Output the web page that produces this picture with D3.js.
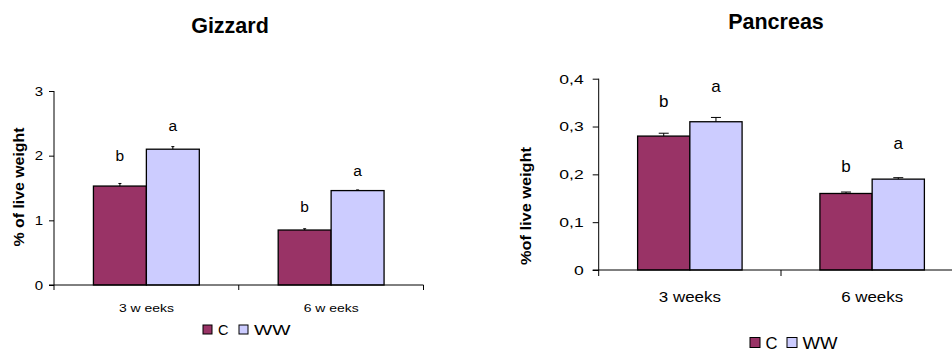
<!DOCTYPE html>
<html>
<head>
<meta charset="utf-8">
<script src="https://cdn.jsdelivr.net/npm/d3@7"></script>
<style>
  html, body { margin: 0; padding: 0; background: #fff; }
  svg { display: block; font-family: "Liberation Sans", Arial, sans-serif; }
</style>
</head>
<body>
<svg id="chart" width="952" height="352"></svg>
<script>
// ---------- DATA ----------
const series = ["C", "WW"];
const seriesColors = ["#993366", "#CCCCFF"];

const gizzardCategories = ["3 w eeks", "6 w eeks"];
const gizzardC = [1.53, 0.85];
const gizzardWW = [2.10, 1.46];
const gizzardErrC = [0.04, 0.02];
const gizzardErrWW = [0.04, 0.01];
const gizzardLettersC = ["b", "b"];
const gizzardLettersWW = ["a", "a"];
const gizzardLetterAtC = [1.91, 1.13];
const gizzardLetterAtWW = [2.38, 1.69];
const gizzardTicks = [0, 1, 2, 3];
const gizzardTickLabels = ["0", "1", "2", "3"];

const pancreasCategories = ["3 weeks", "6 weeks"];
const pancreasC = [0.28, 0.16];
const pancreasWW = [0.31, 0.19];
const pancreasErrC = [0.006, 0.003];
const pancreasErrWW = [0.009, 0.003];
const pancreasLettersC = ["b", "b"];
const pancreasLettersWW = ["a", "a"];
const pancreasLetterAtC = [0.341, 0.2055];
const pancreasLetterAtWW = [0.373, 0.254];
const pancreasTicks = [0, 0.1, 0.2, 0.3, 0.4];
const pancreasTickLabels = ["0", "0,1", "0,2", "0,3", "0,4"];

// ---------- DRAW ----------
const svg = d3.select("#chart");

function stretch(sel, k) {
  sel.each(function () {
    const w = this.getComputedTextLength();
    d3.select(this).attr("textLength", w * k).attr("lengthAdjust", "spacingAndGlyphs");
  });
}

function drawChart(o) {
  const g = svg.append("g");
  const x = d3.scaleBand().domain(o.categories).range([o.x0, o.x1]);
  const xs = d3.scaleBand().domain(series).range([0, x.bandwidth()]).paddingInner(0).paddingOuter(0.745);
  const y = d3.scaleLinear().domain([0, o.ticks[o.ticks.length - 1]]).range([o.y0, o.y1]);

  const values = [o.c, o.ww];
  const errs = [o.errC, o.errWW];
  const letters = [o.lettersC, o.lettersWW];
  const letterAt = [o.letterAtC, o.letterAtWW];

  series.forEach((s, si) => {
    g.selectAll(null).data(o.categories).enter().append("rect")
      .attr("x", d => x(d) + xs(s))
      .attr("y", (d, i) => y(values[si][i]))
      .attr("width", xs.bandwidth())
      .attr("height", (d, i) => y(0) - y(values[si][i]))
      .attr("fill", seriesColors[si])
      .attr("stroke", "#000")
      .attr("stroke-width", 1.3);
    const eg = g.selectAll(null).data(o.categories).enter().append("g");
    eg.append("line")
      .attr("x1", d => x(d) + xs(s) + xs.bandwidth() / 2)
      .attr("x2", d => x(d) + xs(s) + xs.bandwidth() / 2)
      .attr("y1", (d, i) => y(values[si][i]))
      .attr("y2", (d, i) => y(values[si][i] + errs[si][i]))
      .attr("stroke", "#000").attr("stroke-width", 1);
    eg.append("line")
      .attr("x1", d => x(d) + xs(s) + xs.bandwidth() / 2 - o.cap / 2)
      .attr("x2", d => x(d) + xs(s) + xs.bandwidth() / 2 + o.cap / 2)
      .attr("y1", (d, i) => y(values[si][i] + errs[si][i]))
      .attr("y2", (d, i) => y(values[si][i] + errs[si][i]))
      .attr("stroke", "#000").attr("stroke-width", 1);
    g.selectAll(null).data(o.categories).enter().append("text")
      .attr("x", d => x(d) + xs(s) + xs.bandwidth() / 2)
      .attr("y", (d, i) => y(letterAt[si][i]))
      .attr("text-anchor", "middle")
      .attr("font-size", o.letterSize)
      .attr("fill", "#000")
      .text((d, i) => letters[si][i]);
  });

  const yAxis = d3.axisLeft(y).tickValues(o.ticks)
    .tickFormat((d, i) => o.tickLabels[i]).tickSize(o.tickLen).tickPadding(o.tickPad);
  const ya = g.append("g").attr("transform", `translate(${o.x0},0)`).call(yAxis);
  ya.select(".domain").attr("stroke", "#000").attr("d", `M0,${o.y0}V${o.y1}`);
  ya.selectAll(".tick line").attr("stroke", "#000");
  ya.selectAll(".tick text").attr("font-size", o.tickSize).attr("fill", "#000")
    .attr("font-family", "Liberation Sans, Arial, sans-serif");
  stretch(ya.selectAll(".tick text"), o.tickStretch);

  const xLine = g.append("g");
  xLine.append("line").attr("x1", o.x0 - o.tickLen).attr("x2", o.x1)
    .attr("y1", o.y0).attr("y2", o.y0).attr("stroke", "#000");
  const xTicks = o.categories.map(c => x(c)).concat([o.x1]);
  xLine.selectAll(null).data(xTicks).enter().append("line")
    .attr("x1", d => d).attr("x2", d => d)
    .attr("y1", o.y0).attr("y2", o.y0 + o.tickLen).attr("stroke", "#000");
  xLine.selectAll(null).data(o.categories).enter().append("text")
    .attr("x", d => x(d) + x.bandwidth() / 2)
    .attr("y", o.catY)
    .attr("text-anchor", "middle")
    .attr("font-size", o.catSize)
    .attr("fill", "#000")
    .attr("textLength", o.catWidth).attr("lengthAdjust", "spacingAndGlyphs")
    .text(d => d);

  g.append("text")
    .attr("transform", `translate(${o.ylabX},${o.ylabY}) rotate(-90)`)
    .attr("text-anchor", "middle")
    .attr("dominant-baseline", "central")
    .attr("font-size", o.ylabSize).attr("font-weight", "bold")
    .attr("textLength", o.ylabWidth).attr("lengthAdjust", "spacingAndGlyphs")
    .text(o.ylab);

  g.append("text")
    .attr("x", o.titleX).attr("y", o.titleY)
    .attr("text-anchor", "middle")
    .attr("font-size", 21.5).attr("font-weight", "bold")
    .text(o.title);

  const lg = g.append("g");
  series.forEach((s, si) => {
    lg.append("rect")
      .attr("x", o.legX[si]).attr("y", o.legY)
      .attr("width", o.legBox).attr("height", o.legBox)
      .attr("fill", seriesColors[si]).attr("stroke", "#000").attr("stroke-width", 1);
    lg.append("text")
      .attr("x", o.legX[si] + o.legBox + o.legGap).attr("y", o.legBase)
      .attr("font-size", o.legSize).attr("fill", "#000")
      .attr("textLength", o.legWidths[si]).attr("lengthAdjust", "spacingAndGlyphs")
      .text(s);
  });
}

drawChart({
  title: "Gizzard", titleX: 230, titleY: 33,
  categories: gizzardCategories, c: gizzardC, ww: gizzardWW,
  errC: gizzardErrC, errWW: gizzardErrWW,
  lettersC: gizzardLettersC, lettersWW: gizzardLettersWW,
  letterAtC: gizzardLetterAtC, letterAtWW: gizzardLetterAtWW,
  ticks: gizzardTicks, tickLabels: gizzardTickLabels,
  x0: 54, x1: 423.5, y0: 285, y1: 91,
  cap: 3, letterSize: 15.5,
  tickLen: 5, tickPad: 6, tickSize: 12.5, tickStretch: 1.2,
  catY: 311.5, catSize: 11.7, catWidth: 55,
  ylab: "% of live weight", ylabX: 18.5, ylabY: 187, ylabSize: 14, ylabWidth: 119,
  legX: [203, 239], legY: 325, legBox: 9, legGap: 6, legBase: 335, legSize: 15, legWidths: [10.5, 36.5]
});

drawChart({
  title: "Pancreas", titleX: 776, titleY: 28.5,
  categories: pancreasCategories, c: pancreasC, ww: pancreasWW,
  errC: pancreasErrC, errWW: pancreasErrWW,
  lettersC: pancreasLettersC, lettersWW: pancreasLettersWW,
  letterAtC: pancreasLetterAtC, letterAtWW: pancreasLetterAtWW,
  ticks: pancreasTicks, tickLabels: pancreasTickLabels,
  x0: 598.7, x1: 963.3, y0: 270, y1: 78.7,
  cap: 10, letterSize: 17,
  tickLen: 6, tickPad: 9, tickSize: 13.5, tickStretch: 1.3,
  catY: 301.5, catSize: 14, catWidth: 62,
  ylab: "%of live weight", ylabX: 525.5, ylabY: 206, ylabSize: 14, ylabWidth: 118,
  legX: [750, 787], legY: 337.5, legBox: 10, legGap: 5.5, legBase: 348.5, legSize: 17, legWidths: [12, 35]
});
</script>
</body>
</html>
